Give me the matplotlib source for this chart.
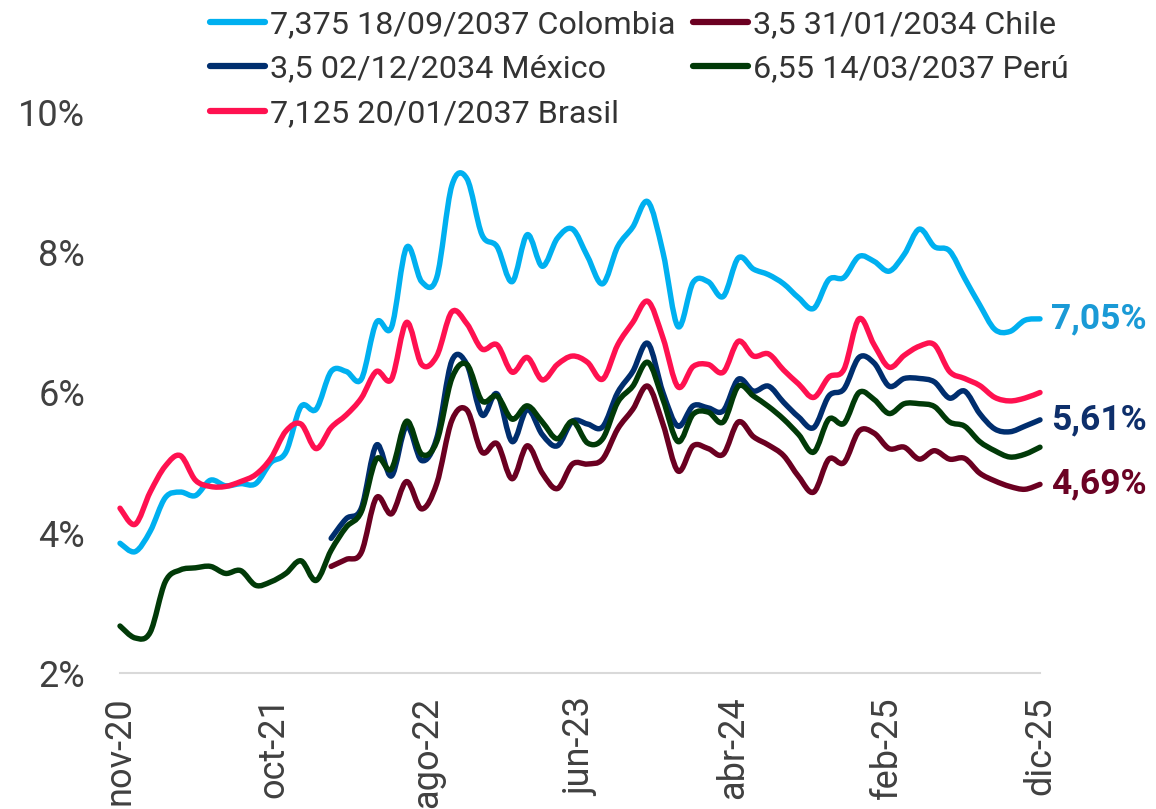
import matplotlib
matplotlib.use("Agg")
import matplotlib.pyplot as plt
import numpy as np
from matplotlib.path import Path
from matplotlib.patches import PathPatch
from matplotlib.lines import Line2D

plt.rcParams['font.family'] = ['Roboto', 'DejaVu Sans']

# ---- data (yields, %) ----
tick_labels = ["nov-20", "oct-21", "ago-22", "jun-23", "abr-24", "feb-25", "dic-25"]

colombia = [3.85, 3.73, 4.02, 4.50, 4.58, 4.53, 4.75, 4.67, 4.70, 4.70,
            5.00, 5.15, 5.80, 5.76, 6.30, 6.30, 6.19, 7.00, 6.93, 8.07,
            7.58, 7.64, 8.95, 9.05, 8.25, 8.08, 7.58, 8.25, 7.80, 8.20,
            8.33, 7.94, 7.55, 8.08, 8.36, 8.72, 8.00, 6.94, 7.57, 7.58,
            7.37, 7.92, 7.76, 7.68, 7.55, 7.35, 7.20, 7.61, 7.64, 7.94,
            7.87, 7.73, 7.97, 8.33, 8.08, 8.02, 7.63, 7.25, 6.90, 6.87,
            7.03, 7.05]

brasil = [4.35, 4.12, 4.58, 4.95, 5.10, 4.75, 4.66, 4.66, 4.73, 4.83,
          5.06, 5.45, 5.55, 5.20, 5.50, 5.68, 5.92, 6.30, 6.19, 7.00,
          6.40, 6.52, 7.15, 6.98, 6.62, 6.68, 6.29, 6.50, 6.18, 6.40,
          6.52, 6.43, 6.19, 6.68, 7.00, 7.30, 6.78, 6.08, 6.37, 6.40,
          6.29, 6.73, 6.52, 6.55, 6.32, 6.12, 5.93, 6.22, 6.33, 7.05,
          6.68, 6.36, 6.53, 6.66, 6.68, 6.30, 6.20, 6.10, 5.93, 5.88,
          5.92, 6.00]

peru = [2.67, 2.50, 2.58, 3.30, 3.47, 3.50, 3.52, 3.42, 3.46, 3.25,
        3.30, 3.42, 3.60, 3.32, 3.75, 4.08, 4.30, 5.05, 4.91, 5.59,
        5.12, 5.30, 6.20, 6.40, 5.88, 5.95, 5.62, 5.81, 5.58, 5.34,
        5.59, 5.28, 5.34, 5.86, 6.09, 6.43, 5.90, 5.30, 5.69, 5.72,
        5.58, 6.09, 5.95, 5.80, 5.62, 5.40, 5.15, 5.62, 5.56, 6.00,
        5.90, 5.70, 5.84, 5.84, 5.80, 5.58, 5.52, 5.30, 5.17, 5.08,
        5.12, 5.22]

# Mexico and Chile start at month index 14
mexico_start = 14
mexico = [3.92, 4.20, 4.35, 5.25, 4.81, 5.52, 5.03, 5.35, 6.45, 6.40,
          5.68, 5.98, 5.30, 5.76, 5.40, 5.24, 5.59, 5.55, 5.51, 6.00,
          6.30, 6.70, 6.00, 5.52, 5.81, 5.78, 5.74, 6.19, 6.02, 6.09,
          5.86, 5.65, 5.50, 5.95, 6.05, 6.50, 6.42, 6.09, 6.20, 6.20,
          6.15, 5.92, 6.02, 5.70, 5.48, 5.44, 5.52, 5.61]

chile_start = 14
chile = [3.52, 3.62, 3.72, 4.50, 4.27, 4.73, 4.34, 4.70, 5.60, 5.75,
         5.15, 5.27, 4.77, 5.24, 4.85, 4.63, 4.98, 4.98, 5.05, 5.48,
         5.76, 6.09, 5.55, 4.88, 5.24, 5.20, 5.12, 5.58, 5.37, 5.25,
         5.10, 4.80, 4.58, 5.05, 5.00, 5.45, 5.42, 5.20, 5.22, 5.05,
         5.17, 5.05, 5.06, 4.85, 4.74, 4.66, 4.62, 4.69]

end_labels = {"Colombia": "7,05%", "México": "5,61%", "Chile": "4,69%"}

names = ["7,375 18/09/2037 Colombia", "3,5 02/12/2034 México",
         "7,125 20/01/2037 Brasil", "3,5 31/01/2034 Chile",
         "6,55 14/03/2037 Perú"]
colors = ["#00B0F0", "#002E6E", "#FF1150", "#6B0021", "#013A08"]

n = len(colombia)
x_all = np.arange(n)

series = [
    (x_all, colombia),
    (np.arange(mexico_start, mexico_start + len(mexico)), mexico),
    (x_all, brasil),
    (np.arange(chile_start, chile_start + len(chile)), chile),
    (x_all, peru),
]


def smooth_path(x, y):
    x = np.asarray(x, float)
    y = np.asarray(y, float)
    m = len(x)
    verts = [(x[0], y[0])]
    codes = [Path.MOVETO]
    for i in range(m - 1):
        p0 = i - 1 if i > 0 else i
        p3 = i + 2 if i + 2 < m else i + 1
        c1 = (x[i] + (x[i + 1] - x[p0]) / 6.0, y[i] + (y[i + 1] - y[p0]) / 6.0)
        c2 = (x[i + 1] - (x[p3] - x[i]) / 6.0, y[i + 1] - (y[p3] - y[i]) / 6.0)
        verts += [c1, c2, (x[i + 1], y[i + 1])]
        codes += [Path.CURVE4] * 3
    return Path(verts, codes)


W, H = 1156, 809
fig = plt.figure(figsize=(W / 100, H / 100), dpi=100)
ax = fig.add_axes([120 / W, (H - 673) / H, 920 / W, (673 - 112) / H])
ax.set_xlim(0, n - 1)
ax.set_ylim(2, 10)

for (xs, ys), c in zip(series, colors):
    p = PathPatch(smooth_path(xs, ys), fill=False, edgecolor=c, lw=3.9,
                  capstyle='round', joinstyle='round', clip_on=False, zorder=3)
    ax.add_patch(p)

# end labels
label_colors = {"Colombia": "#1A9AD6", "México": "#0E2F6B", "Chile": "#6B0224"}
last_vals = {"Colombia": colombia[-1], "México": mexico[-1], "Chile": chile[-1]}
for k, txt in end_labels.items():
    ax.annotate(txt, xy=(n - 1, last_vals[k]), xytext=(8, 0),
                textcoords='offset points', ha='left', va='center',
                fontsize=25.5, fontweight='bold', color=label_colors[k],
                annotation_clip=False)

# axes styling
ax.set_yticks([2, 4, 6, 8, 10])
ax.set_yticklabels([f"{v}%" for v in [2, 4, 6, 8, 10]])
ax.set_xticks(np.linspace(0, n - 1, len(tick_labels)))
ax.set_xticklabels(tick_labels, rotation=90, va='top', ha='center')
ax.tick_params(axis='y', length=0, pad=25, labelsize=26, labelcolor='#404040')
ax.tick_params(axis='x', length=0, pad=17, labelsize=26, labelcolor='#404040')
for s in ['top', 'right', 'left']:
    ax.spines[s].set_visible(False)
ax.spines['bottom'].set_color('#D9D9D9')
ax.spines['bottom'].set_linewidth(1.5)

handles = [Line2D([], [], color=c, lw=4.5, solid_capstyle='round') for c in colors]
leg = fig.legend(handles, names, loc='upper left', bbox_to_anchor=(210 / W, 1 - 10 / H),
                 ncol=2, frameon=False, fontsize=23.3, handlelength=1.7,
                 handletextpad=0.15, columnspacing=0.55, labelspacing=0.48,
                 borderaxespad=0, borderpad=0)
for t in leg.get_texts():
    t.set_color('#333333')

fig.savefig("out.png", dpi=100)
